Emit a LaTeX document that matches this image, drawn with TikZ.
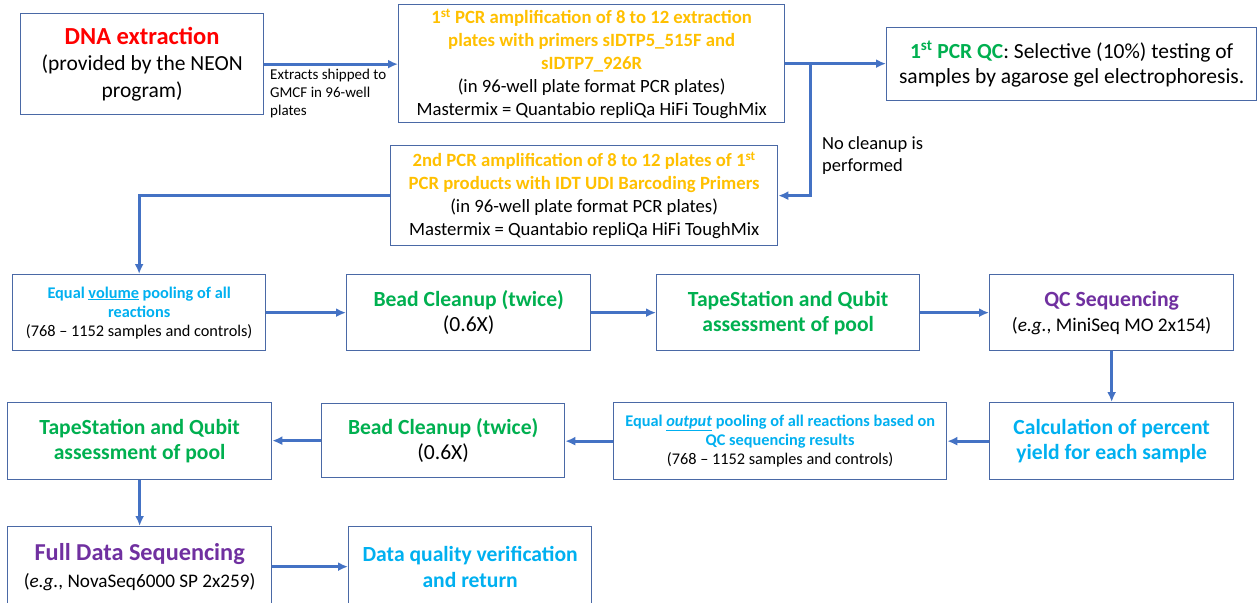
\documentclass[tikz,border=0pt]{standalone}
\usepackage{fontspec}
\setmainfont{Carlito}
\usetikzlibrary{arrows.meta}
\definecolor{cred}{HTML}{FF0000}
\definecolor{cgold}{HTML}{FFC000}
\definecolor{cgreen}{HTML}{00B050}
\definecolor{cpurple}{HTML}{7030A0}
\definecolor{ccyan}{HTML}{00B0F0}
\definecolor{cborder}{HTML}{4A69A6}
\definecolor{carrow}{HTML}{4472C4}
\newcommand{\fs}[2]{\fontsize{#1}{#2}\selectfont}
\newcommand{\gld}[1]{\textcolor{cgold}{\bfseries #1}}
\newcommand{\grn}[1]{\textcolor{cgreen}{\bfseries #1}}
\newcommand{\cyn}[1]{\textcolor{ccyan}{\bfseries #1}}
\newcommand{\prp}[1]{\textcolor{cpurple}{\bfseries #1}}
\begin{document}
\begin{tikzpicture}[x=1pt,y=-1pt,
  box/.style={draw=cborder, line width=1.3pt, fill=white, inner sep=0pt, align=center, anchor=north west},
  arr/.style={draw=carrow, line width=2.8pt, -{Latex[length=10pt,width=9pt]}},
  lbl/.style={align=left, anchor=north west, inner sep=0pt}]
\useasboundingbox (0,0) rectangle (1257,602);

% row 1
\node[box, minimum width=243pt, minimum height=101pt, font=\fs{21.5}{26.5}] (dna) at (20,13)
  {{\fs{24.5}{27}\textcolor{cred}{\bfseries DNA extraction}}\\(provided by the NEON\\program)};
\node[box, minimum width=386pt, minimum height=118pt, font=\fs{18.7}{23}] (pcr1) at (398,4)
  {\gld{1\textsuperscript{st} PCR amplification of 8 to 12 extraction}\\
   \gld{plates with primers sIDTP5\_515F and}\\
   \gld{sIDTP7\_926R}\\
   (in 96-well plate format PCR plates)\\
   Mastermix = Quantabio repliQa HiFi ToughMix};
\node[box, minimum width=370pt, minimum height=73pt, font=\fs{21.5}{25}] (qc) at (886,27)
  {\grn{1\textsuperscript{st} PCR QC}: Selective (10\%) testing of\\samples by agarose gel electrophoresis.};
\node[box, minimum width=387pt, minimum height=100pt, font=\fs{18.7}{23}] (pcr2) at (390,145)
  {\gld{2nd PCR amplification of 8 to 12 plates of 1\textsuperscript{st}}\\
   \gld{PCR products with IDT UDI Barcoding Primers}\\
   (in 96-well plate format PCR plates)\\
   Mastermix = Quantabio repliQa HiFi ToughMix};

% row 2
\node[box, minimum width=253pt, minimum height=76pt, font=\fs{16.3}{19}] (pool1) at (12,274)
  {\cyn{Equal \underline{volume} pooling of all}\\\cyn{reactions}\\(768 -- 1152 samples and controls)};
\node[box, minimum width=244pt, minimum height=76pt, font=\fs{21.6}{25}] (bead1) at (346,274)
  {\grn{Bead Cleanup (twice)}\\(0.6X)};
\node[box, minimum width=263pt, minimum height=76pt, font=\fs{21.6}{25}] (tape1) at (656,274)
  {\grn{TapeStation and Qubit}\\\grn{assessment of pool}};
\node[box, minimum width=244pt, minimum height=76pt, font=\fs{19.3}{25}] (qcseq) at (989,274)
  {{\fs{21.7}{25}\prp{QC Sequencing}}\\(\textit{e.g.}, MiniSeq MO 2x154)};

% row 3
\node[box, minimum width=244pt, minimum height=77pt, font=\fs{21.6}{25.5}] (calc) at (989,402)
  {\cyn{Calculation of percent}\\\cyn{yield for each sample}};
\node[box, minimum width=333pt, minimum height=77pt, font=\fs{16.3}{19}] (pool2) at (613,402)
  {\cyn{Equal \underline{\textit{output}} pooling of all reactions based on}\\\cyn{QC sequencing results}\\(768 -- 1152 samples and controls)};
\node[box, minimum width=243pt, minimum height=74pt, font=\fs{21.6}{25}] (bead2) at (321,403)
  {\grn{Bead Cleanup (twice)}\\(0.6X)};
\node[box, minimum width=264pt, minimum height=77pt, font=\fs{21.6}{25}] (tape2) at (7,402)
  {\grn{TapeStation and Qubit}\\\grn{assessment of pool}};

% row 4
\node[box, minimum width=264pt, minimum height=80pt, font=\fs{19.2}{27}] (full) at (7,526)
  {{\fs{24.3}{27}\prp{Full Data Sequencing}}\\(\textit{e.g.}, NovaSeq6000 SP 2x259)};
\node[box, minimum width=243pt, minimum height=80pt, font=\fs{21.6}{26}] (dq) at (348,526)
  {\cyn{Data quality verification}\\\cyn{and return}};

% labels
\node[lbl, font=\fs{15}{18}] (lab1) at (270,69) {Extracts shipped to\\GMCF in 96-well\\plates};
\node[lbl, font=\fs{18.5}{22}] (lab2) at (822,136) {No cleanup is\\performed};

% connectors
\draw[arr] (dna.east) -- (dna.east -| pcr1.west);
\draw[arr] (pcr1.east) -- (pcr1.east -| qc.west);
\path (pcr1.east) -- ++(25,0) coordinate (j);
\draw[arr] (j) |- (pcr2.east);
\draw[arr] (pcr2.west) -| (pool1.north);
\draw[arr] (pool1.east) -- (bead1.west);
\draw[arr] (bead1.east) -- (tape1.west);
\draw[arr] (tape1.east) -- (qcseq.west);
\draw[arr] (qcseq.south) -- (calc.north);
\draw[arr] (calc.west) -- (pool2.east);
\draw[arr] (pool2.west) -- (pool2.west -| bead2.east);
\draw[arr] (bead2.west) -- (bead2.west -| tape2.east);
\draw[arr] (tape2.south) -- (full.north);
\draw[arr] (full.east) -- (full.east -| dq.west);
\end{tikzpicture}
\end{document}
